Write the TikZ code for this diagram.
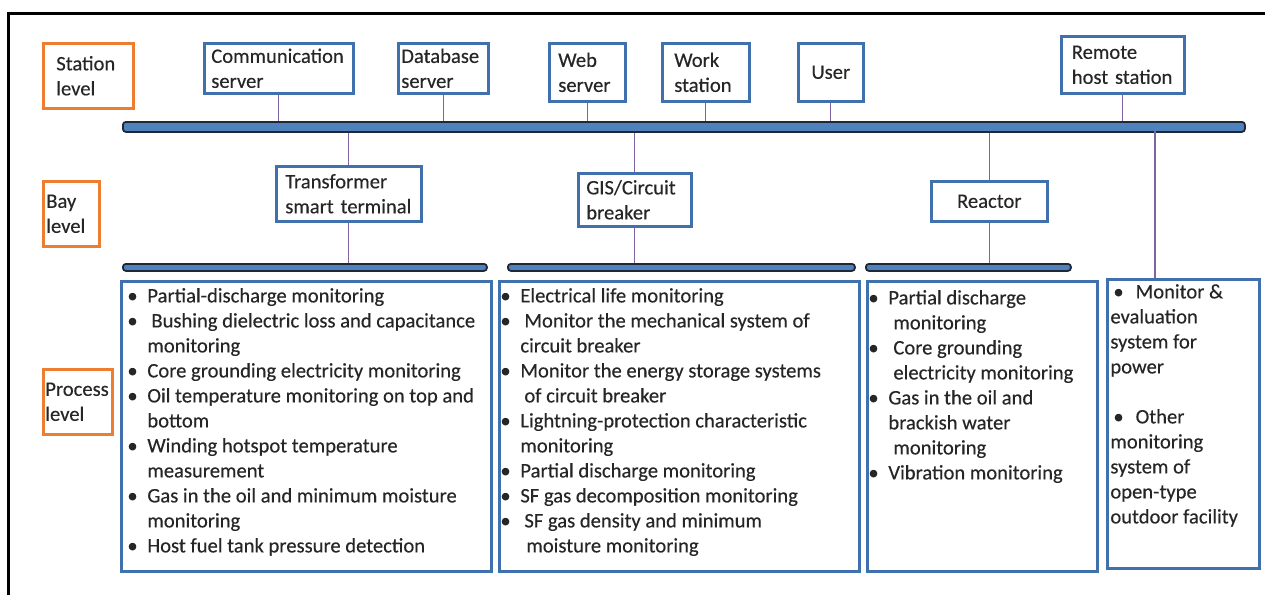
\documentclass[tikz,border=0pt]{standalone}
\usepackage{fontspec}
\setmainfont{Carlito}
\newfontfamily\diagfont{Carlito}[FakeBold=0.3]

\definecolor{lvlorange}{RGB}{237,125,49}
\definecolor{boxblue}{RGB}{65,113,172}
\definecolor{busblue}{RGB}{79,129,189}
\definecolor{busedge}{RGB}{30,40,55}
\definecolor{linkpurple}{RGB}{128,100,162}

\newcommand\boxfont{\diagfont\fontsize{10.3}{12.5}\selectfont}
\newcommand\bitem{\strut\makebox[10pt][l]{\textbullet}}
\newcommand\bcont{\hspace*{10pt}}

\tikzset{
  level/.style={draw=lvlorange, line width=1.3pt, anchor=north west,
    align=left, inner ysep=0pt, font=\boxfont, text=black!85},
  unit/.style={draw=boxblue, line width=1.3pt, anchor=north west,
    align=left, inner ysep=0pt, font=\boxfont, text=black!85},
  procbox/.style={draw=boxblue, line width=1.3pt, anchor=north west,
    inner sep=0pt},
  items/.style={anchor=north west, align=left, inner sep=0pt,
    font=\boxfont, text=black!85},
  busbar/.style={draw=busedge, fill=busblue, line width=0.9pt,
    rounded corners=1.5pt, anchor=north west, inner sep=0pt},
  link/.style={draw=linkpurple, line width=0.6pt},
  frame/.style={line width=1.5pt}
}

\begin{document}
\begin{tikzpicture}[x=0.5pt, y=-0.5pt]
  \useasboundingbox (0,0) rectangle (1265,595);
  \draw[frame] (8,595) -- (8,13) -- (1265,13);

  % levels
  \node[level, text width=32pt, inner xsep=6.5pt, minimum height=32.5pt] (stl) at (42,42) {Station\\level};
  \node[level, text width=25pt, inner xsep=1.5pt, minimum height=32.5pt] (bayl) at (42,180) {Bay\\level};
  \node[level, text width=32.5pt, inner xsep=1pt, minimum height=32.5pt] (procl) at (42,368) {Process\\level};

  % station level
  \node[unit, text width=67.5pt, inner xsep=3.5pt, minimum height=25pt] (comm) at (203,42) {Communication\\server};
  \node[unit, text width=42pt, inner xsep=1.5pt, minimum height=25pt] (db) at (397,42) {Database\\server};
  \node[unit, text width=29pt, inner xsep=4.5pt, minimum height=29pt] (web) at (548,42) {Web\\server};
  \node[unit, text width=31.5pt, inner xsep=6pt, minimum height=29pt] (work) at (661,42) {Work\\station};
  \node[unit, text width=32.5pt, inner xsep=0pt, minimum height=29pt, align=center] (user) at (797,42) {User};
  \node[unit, text width=51pt, inner xsep=5.25pt, minimum height=28.5pt] (remote) at (1060,35) {Remote\\host station};

  \node[busbar, minimum width=561pt, minimum height=5pt] (bus) at (122,121) {};

  % bay level
  \node[unit, text width=63.5pt, inner xsep=4.5pt, minimum height=27.5pt] (tst) at (275,165) {Transformer\\smart terminal};
  \node[unit, text width=48.5pt, inner xsep=4pt, minimum height=26.5pt] (gis) at (577,172) {GIS/Circuit\\breaker};
  \node[unit, text width=58pt, inner xsep=0pt, minimum height=20pt, align=center] (rea) at (930,180) {Reactor};

  \node[busbar, minimum width=182pt, minimum height=3.5pt] (b1) at (122,263) {};
  \node[busbar, minimum width=173.5pt, minimum height=3.5pt] (b2) at (507,263) {};
  \node[busbar, minimum width=102.5pt, minimum height=3.5pt] (b3) at (865,263) {};

  % process level
  \node[procbox, minimum width=185pt, minimum height=145pt] (p1) at (120,280) {};
  \node[procbox, minimum width=180pt, minimum height=145pt] (p2) at (498,280) {};
  \node[procbox, minimum width=115pt, minimum height=145pt] (p3) at (866,280) {};
  \node[procbox, minimum width=76pt, minimum height=144.5pt] (p4) at (1106,278) {};

  \node[items] (p1txt) at ([shift={(3.5pt,-2.25pt)}]p1.north west) {%
    \bitem Partial-discharge monitoring\\
    \bitem\hspace*{2pt}Bushing dielectric loss and capacitance\\
    \bcont monitoring\\
    \bitem Core grounding electricity monitoring\\
    \bitem Oil temperature monitoring on top and\\
    \bcont bottom\\
    \bitem Winding hotspot temperature\\
    \bcont measurement\\
    \bitem Gas in the oil and minimum moisture\\
    \bcont monitoring\\
    \bitem Host fuel tank pressure detection};
  \node[items] (p2txt) at ([shift={(1pt,-2.25pt)}]p2.north west) {%
    \bitem Electrical life monitoring\\
    \bitem\hspace*{2pt}Monitor the mechanical system of\\
    \bcont circuit breaker\\
    \bitem Monitor the energy storage systems\\
    \bcont\hspace*{2pt}of circuit breaker\\
    \bitem Lightning-protection characteristic\\
    \bcont monitoring\\
    \bitem Partial discharge monitoring\\
    \bitem SF gas decomposition monitoring\\
    \bitem\hspace*{2pt}SF gas density and minimum\\
    \bcont\hspace*{3pt}moisture monitoring};
  \node[items] (p3txt) at ([shift={(1pt,-3.25pt)}]p3.north west) {%
    \bitem Partial discharge\\
    \bcont\hspace*{2.5pt}monitoring\\
    \bitem\hspace*{2.5pt}Core grounding\\
    \bcont\hspace*{2.5pt}electricity monitoring\\
    \bitem Gas in the oil and\\
    \bcont brackish water\\
    \bcont\hspace*{2.5pt}monitoring\\
    \bitem Vibration monitoring};
  \node[items] (p4txt) at ([shift={(2pt,-1.25pt)}]p4.north west) {%
    \strut\hspace*{1.5pt}\textbullet\hspace*{6pt}Monitor \&\\
    evaluation\\
    system for\\
    power\\
    \mbox{}\\
    \hspace*{1.5pt}\textbullet\hspace*{6pt}Other\\
    monitoring\\
    system of\\
    open-type\\
    outdoor facility};

  % connectors
  \draw[link] (comm.south) -- (comm.south |- bus.north);
  \draw[link] (db.south) -- (db.south |- bus.north);
  \draw[link] (web.south) -- (web.south |- bus.north);
  \draw[link] (work.south) -- (work.south |- bus.north);
  \draw[link] (user.south) -- (user.south |- bus.north);
  \draw[link] (remote.south) -- (remote.south |- bus.north);
  \draw[link] (tst.north |- bus.south) -- (tst.north);
  \draw[link] (gis.north |- bus.south) -- (gis.north);
  \draw[link] (rea.north |- bus.south) -- (rea.north);
  \coordinate (tap) at (1155,131);
  \draw[link] (tap) -- (tap |- p4.north);
  \draw[link] (tst.south) -- (tst.south |- b1.north);
  \draw[link] (gis.south) -- (gis.south |- b2.north);
  \draw[link] (rea.south) -- (rea.south |- b3.north);
\end{tikzpicture}
\end{document}
